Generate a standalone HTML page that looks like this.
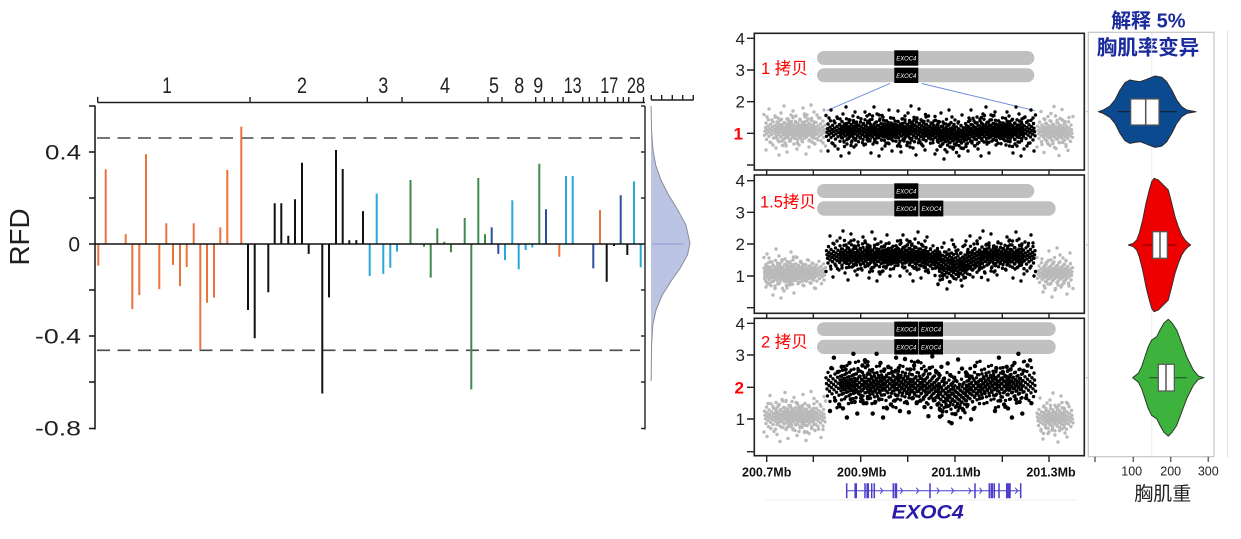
<!DOCTYPE html>
<html>
<head>
<meta charset="utf-8">
<style>
html,body{margin:0;padding:0;background:#fff;}
body{width:1241px;height:539px;overflow:hidden;}
svg{display:block;}
text{font-family:"Liberation Sans","Noto Sans CJK SC",sans-serif;}
</style>
</head>
<body>
<svg width="1241" height="539" viewBox="0 0 1241 539" xmlns="http://www.w3.org/2000/svg" xmlns:xlink="http://www.w3.org/1999/xlink">
<defs>
<g id="tA">
<circle cx="0" cy="-15.5" r="1.7"/><circle cx="11.5" cy="-12.7" r="1.7"/><circle cx="23" cy="-11.2" r="1.7"/><circle cx="4.5" cy="-10.2" r="1.7"/><circle cx="16" cy="-9.4" r="1.7"/><circle cx="27.5" cy="-8.6" r="1.7"/><circle cx="9" cy="-8.1" r="1.7"/><circle cx="20.5" cy="-7.5" r="1.7"/><circle cx="2" cy="-7" r="1.7"/><circle cx="13.5" cy="-6.5" r="1.7"/><circle cx="25" cy="-6" r="1.7"/><circle cx="6.5" cy="-5.7" r="1.7"/><circle cx="18" cy="-5.3" r="1.7"/><circle cx="29.5" cy="-4.9" r="1.7"/><circle cx="11" cy="-4.6" r="1.7"/><circle cx="22.5" cy="-4.2" r="1.7"/><circle cx="4" cy="-3.9" r="1.7"/><circle cx="15.5" cy="-3.6" r="1.7"/><circle cx="27" cy="-3.3" r="1.7"/><circle cx="8.5" cy="-2.9" r="1.7"/><circle cx="20" cy="-2.7" r="1.7"/><circle cx="1.5" cy="-2.3" r="1.7"/><circle cx="13" cy="-2.1" r="1.7"/><circle cx="24.5" cy="-1.8" r="1.7"/><circle cx="6" cy="-1.5" r="1.7"/><circle cx="17.5" cy="-1.2" r="1.7"/><circle cx="29" cy="-1" r="1.7"/><circle cx="10.5" cy="-0.7" r="1.7"/><circle cx="22" cy="-0.4" r="1.7"/><circle cx="3.5" cy="-0.1" r="1.7"/><circle cx="15" cy="0.1" r="1.7"/><circle cx="26.5" cy="0.4" r="1.7"/><circle cx="8" cy="0.7" r="1.7"/><circle cx="19.5" cy="1" r="1.7"/><circle cx="1" cy="1.2" r="1.7"/><circle cx="12.5" cy="1.5" r="1.7"/><circle cx="24" cy="1.8" r="1.7"/><circle cx="5.5" cy="2.1" r="1.7"/><circle cx="17" cy="2.3" r="1.7"/><circle cx="28.5" cy="2.7" r="1.7"/><circle cx="10" cy="2.9" r="1.7"/><circle cx="21.5" cy="3.3" r="1.7"/><circle cx="3" cy="3.6" r="1.7"/><circle cx="14.5" cy="3.9" r="1.7"/><circle cx="26" cy="4.2" r="1.7"/><circle cx="7.5" cy="4.6" r="1.7"/><circle cx="19" cy="4.9" r="1.7"/><circle cx="0.5" cy="5.3" r="1.7"/><circle cx="12" cy="5.7" r="1.7"/><circle cx="23.5" cy="6" r="1.7"/><circle cx="5" cy="6.5" r="1.7"/><circle cx="16.5" cy="7" r="1.7"/><circle cx="28" cy="7.5" r="1.7"/><circle cx="9.5" cy="8.1" r="1.7"/><circle cx="21" cy="8.6" r="1.7"/><circle cx="2.5" cy="9.4" r="1.7"/><circle cx="14" cy="10.2" r="1.7"/><circle cx="25.5" cy="11.2" r="1.7"/><circle cx="7" cy="12.7" r="1.7"/><circle cx="18.5" cy="15.5" r="1.7"/>
</g>
<g id="tB">
<circle cx="0" cy="-22.7" r="1.7"/><circle cx="11.5" cy="-18.6" r="1.7"/><circle cx="23" cy="-16.4" r="1.7"/><circle cx="4.5" cy="-14.9" r="1.7"/><circle cx="16" cy="-13.7" r="1.7"/><circle cx="27.5" cy="-12.6" r="1.7"/><circle cx="9" cy="-11.8" r="1.7"/><circle cx="20.5" cy="-10.9" r="1.7"/><circle cx="2" cy="-10.2" r="1.7"/><circle cx="13.5" cy="-9.5" r="1.7"/><circle cx="25" cy="-8.8" r="1.7"/><circle cx="6.5" cy="-8.3" r="1.7"/><circle cx="18" cy="-7.7" r="1.7"/><circle cx="29.5" cy="-7.2" r="1.7"/><circle cx="11" cy="-6.7" r="1.7"/><circle cx="22.5" cy="-6.2" r="1.7"/><circle cx="4" cy="-5.7" r="1.7"/><circle cx="15.5" cy="-5.2" r="1.7"/><circle cx="27" cy="-4.8" r="1.7"/><circle cx="8.5" cy="-4.3" r="1.7"/><circle cx="20" cy="-3.9" r="1.7"/><circle cx="1.5" cy="-3.4" r="1.7"/><circle cx="13" cy="-3" r="1.7"/><circle cx="24.5" cy="-2.6" r="1.7"/><circle cx="6" cy="-2.2" r="1.7"/><circle cx="17.5" cy="-1.8" r="1.7"/><circle cx="29" cy="-1.4" r="1.7"/><circle cx="10.5" cy="-1" r="1.7"/><circle cx="22" cy="-0.6" r="1.7"/><circle cx="3.5" cy="-0.2" r="1.7"/><circle cx="15" cy="0.2" r="1.7"/><circle cx="26.5" cy="0.6" r="1.7"/><circle cx="8" cy="1" r="1.7"/><circle cx="19.5" cy="1.4" r="1.7"/><circle cx="1" cy="1.8" r="1.7"/><circle cx="12.5" cy="2.2" r="1.7"/><circle cx="24" cy="2.6" r="1.7"/><circle cx="5.5" cy="3" r="1.7"/><circle cx="17" cy="3.4" r="1.7"/><circle cx="28.5" cy="3.9" r="1.7"/><circle cx="10" cy="4.3" r="1.7"/><circle cx="21.5" cy="4.8" r="1.7"/><circle cx="3" cy="5.2" r="1.7"/><circle cx="14.5" cy="5.7" r="1.7"/><circle cx="26" cy="6.2" r="1.7"/><circle cx="7.5" cy="6.7" r="1.7"/><circle cx="19" cy="7.2" r="1.7"/><circle cx="0.5" cy="7.7" r="1.7"/><circle cx="12" cy="8.3" r="1.7"/><circle cx="23.5" cy="8.8" r="1.7"/><circle cx="5" cy="9.5" r="1.7"/><circle cx="16.5" cy="10.2" r="1.7"/><circle cx="28" cy="10.9" r="1.7"/><circle cx="9.5" cy="11.8" r="1.7"/><circle cx="21" cy="12.6" r="1.7"/><circle cx="2.5" cy="13.7" r="1.7"/><circle cx="14" cy="14.9" r="1.7"/><circle cx="25.5" cy="16.4" r="1.7"/><circle cx="7" cy="18.6" r="1.7"/><circle cx="18.5" cy="22.7" r="1.7"/>
</g>
<g id="tC">
<circle cx="3" cy="-21" r="1.7"/><circle cx="9" cy="-14" r="1.7"/><circle cx="15" cy="-17" r="1.7"/><circle cx="22" cy="-11" r="1.7"/><circle cx="27" cy="-19" r="1.7"/><circle cx="6" cy="-10" r="1.7"/><circle cx="18" cy="-24" r="1.7"/><circle cx="12" cy="-12" r="1.7"/><circle cx="25" cy="-15" r="1.7"/><circle cx="1" cy="-13" r="1.7"/>
<circle cx="4" cy="12" r="1.7"/><circle cx="10" cy="18" r="1.7"/><circle cx="16" cy="11" r="1.7"/><circle cx="21" cy="22" r="1.7"/><circle cx="28" cy="14" r="1.7"/><circle cx="7" cy="15" r="1.7"/><circle cx="13" cy="25" r="1.7"/><circle cx="19" cy="13" r="1.7"/><circle cx="24" cy="10" r="1.7"/><circle cx="0" cy="20" r="1.7"/>
</g>
</defs>
<rect x="0" y="0" width="1241" height="539" fill="#fff"/>

<!-- ============ LEFT CHART ============ -->
<text transform="translate(29,237) rotate(-90)" font-size="28" text-anchor="middle" fill="#231f20" textLength="57" lengthAdjust="spacingAndGlyphs">RFD</text>

<g font-size="21" fill="#231f20" text-anchor="end">
<text x="81" y="159.5" textLength="36" lengthAdjust="spacingAndGlyphs">0.4</text>
<text x="80" y="251.5">0</text>
<text x="81" y="343.5" textLength="46" lengthAdjust="spacingAndGlyphs">-0.4</text>
<text x="81" y="435.5" textLength="46" lengthAdjust="spacingAndGlyphs">-0.8</text>
</g>

<g stroke="#231f20" stroke-width="1.6" fill="none">
<line x1="95" y1="105.5" x2="95" y2="429.5"/>
<line x1="89" y1="106" x2="95" y2="106"/>
<line x1="89" y1="152" x2="95" y2="152"/>
<line x1="89" y1="198" x2="95" y2="198"/>
<line x1="89" y1="244" x2="95" y2="244"/>
<line x1="89" y1="290" x2="95" y2="290"/>
<line x1="89" y1="336" x2="95" y2="336"/>
<line x1="89" y1="382" x2="95" y2="382"/>
<line x1="89" y1="428.5" x2="95" y2="428.5"/>
</g>
<g stroke="#231f20" stroke-width="1.4" fill="none">
<line x1="645" y1="106" x2="645" y2="429.5"/>
<line x1="641" y1="106" x2="645" y2="106"/>
<line x1="641" y1="152" x2="645" y2="152"/>
<line x1="641" y1="198" x2="645" y2="198"/>
<line x1="641" y1="290" x2="645" y2="290"/>
<line x1="641" y1="336" x2="645" y2="336"/>
<line x1="641" y1="382" x2="645" y2="382"/>
<line x1="641" y1="428.5" x2="645" y2="428.5"/>
</g>

<g stroke="#231f20" stroke-width="1.4" fill="none">
<line x1="97.7" y1="102.5" x2="645" y2="102.5"/>
<path d="M97.7,102.5V97 M250,102.5V97 M367.3,102.5V97 M402,102.5V97 M488,102.5V97 M502,102.5V97 M535.7,102.5V97 M544.3,102.5V97 M552.3,102.5V97 M563,102.5V97 M582.7,102.5V97 M589.3,102.5V97 M597,102.5V97 M604.7,102.5V97 M617.7,102.5V97 M623.3,102.5V97 M628.7,102.5V97 M643.5,102.5V97"/>
<line x1="651.3" y1="100" x2="693.3" y2="100"/>
<path d="M651.3,100V95 M661.7,100V95 M672.3,100V95 M682.7,100V95 M693.3,100V95"/>
</g>
<g font-size="22" fill="#231f20" text-anchor="middle">
<text x="167" y="93" textLength="9.5" lengthAdjust="spacingAndGlyphs">1</text>
<text x="302" y="93" textLength="10" lengthAdjust="spacingAndGlyphs">2</text>
<text x="383.3" y="93" textLength="10" lengthAdjust="spacingAndGlyphs">3</text>
<text x="445" y="93" textLength="10" lengthAdjust="spacingAndGlyphs">4</text>
<text x="494" y="93" textLength="10" lengthAdjust="spacingAndGlyphs">5</text>
<text x="519.3" y="93" textLength="10" lengthAdjust="spacingAndGlyphs">8</text>
<text x="538.3" y="93" textLength="10" lengthAdjust="spacingAndGlyphs">9</text>
<text x="572.7" y="93" textLength="18" lengthAdjust="spacingAndGlyphs">13</text>
<text x="609.3" y="93" textLength="18" lengthAdjust="spacingAndGlyphs">17</text>
<text x="636" y="93" textLength="18" lengthAdjust="spacingAndGlyphs">28</text>
</g>

<g stroke="#4a4a4a" stroke-width="1.6" stroke-dasharray="13 7.5" fill="none">
<line x1="97" y1="138" x2="640" y2="138"/>
<line x1="97" y1="350.3" x2="640" y2="350.3"/>
</g>

<path d="M651,106 L651.1,106 L651.5,130 L653,150 L655.7,165 L660.9,180 L668.6,195 L677.8,210 L685.9,225 L690,243 L687.5,255 L680.3,268 L671.8,280 L662.3,295 L656,310 L652.8,325 L651.6,345 L651.1,381 L651,381 Z" fill="#bcc4e4" stroke="none"/>
<path d="M651.1,106 L651.5,130 L653,150 L655.7,165 L660.9,180 L668.6,195 L677.8,210 L685.9,225 L690,243 L687.5,255 L680.3,268 L671.8,280 L662.3,295 L656,310 L652.8,325 L651.6,345 L651.1,381" fill="none" stroke="#8c8c96" stroke-width="1"/>
<line x1="652" y1="244" x2="684" y2="244" stroke="#a6afdc" stroke-width="2"/>

<g stroke-width="2" fill="none">
<g stroke="#e8743b">
<path d="M98.3,244V265.6 M105.7,244V169.3 M125.7,244V234.1 M132.3,244V309.1 M139.3,244V295.1 M146,244V154.1 M159.3,244V289.1 M166.3,244V223.3 M173,244V264.9 M180,244V286.1 M186.7,244V267 M193.7,244V223.3 M200.3,244V349.3 M207,244V302.7 M214,244V297.6 M220.3,244V227.4 M227.3,244V170 M241.3,244V126.7 M559.3,244V256.7 M600,244V210"/>
</g>
<g stroke="#111">
<path d="M248,244V310 M254.7,244V338.3 M268.3,244V292.3 M274.7,244V203.3 M281.3,244V203.3 M288.3,244V235.7 M295,244V199.3 M302,244V162.8 M308.7,244V253.9 M322.3,244V393.5 M329,244V297.4 M336,244V150 M342.7,244V169 M349.3,244V240.3 M356.3,244V240.1 M363,244V211.1 M606.7,244V281.7 M614,244V246 M627.3,244V255"/>
</g>
<g stroke="#2aa6dd">
<path d="M369.7,244V276 M376.7,244V193.6 M383.3,244V273.9 M390.3,244V267.7 M397,244V251.6 M505,244V260.1 M512.3,244V200.3 M518.7,244V269.3 M525.7,244V250 M532.3,244V247.5 M566,244V176 M572.7,244V176 M634,244V181.4 M640.7,244V267.3"/>
</g>
<g stroke="#3c8a4c">
<path d="M410.5,244V180 M424,244V246.8 M430.7,244V277.6 M437.3,244V228.4 M444.3,244V241.8 M451,244V252.3 M464.7,244V218 M471.3,244V389.4 M478.3,244V178 M485,244V234.1 M539.3,244V163.7"/>
</g>
<g stroke="#2b4f9e">
<path d="M491.7,244V227.4 M498.3,244V253.9 M546,244V209.3 M593.3,244V268.4 M620.7,244V195.3"/>
</g>
</g>
<line x1="95" y1="244" x2="645" y2="244" stroke="#111" stroke-width="1.6"/>

<!-- ============ RIGHT PANELS ============ -->
<g font-size="17" fill="#222" text-anchor="end">
<text x="745" y="44.5">4</text>
<text x="745" y="76">3</text>
<text x="745" y="107.7">2</text>
<text x="743" y="139.5" fill="#f00" font-weight="bold">1</text>
<text x="745" y="186.7">4</text>
<text x="745" y="218.3">3</text>
<text x="745" y="250">2</text>
<text x="745" y="282">1</text>
<text x="745" y="329.3">4</text>
<text x="745" y="361">3</text>
<text x="744" y="393.5" fill="#f00" font-weight="bold">2</text>
<text x="745" y="425">1</text>
</g>
<g stroke="#222" stroke-width="1.4">
<path d="M747,38.3H754.3 M747,70H754.3 M747,101.7H754.3 M747,133.3H754.3 M747,165H754.3"/>
<path d="M747,180.7H754.3 M747,212.3H754.3 M747,244H754.3 M747,276H754.3 M747,307.7H754.3"/>
<path d="M747,323.3H754.3 M747,355H754.3 M747,387.3H754.3 M747,419H754.3 M747,451.7H754.3"/>
</g>
<g stroke="#222" stroke-width="1.4">
<path d="M766.7,170V174.5 M813.3,170V174.5 M860.7,170V174.5 M907.7,170V174.5 M955,170V174.5 M1002.3,170V174.5 M1049,170V174.5"/>
<path d="M766.7,313.3V318 M813.3,313.3V318 M860.7,313.3V318 M907.7,313.3V318 M955,313.3V318 M1002.3,313.3V318 M1049,313.3V318"/>
<path d="M766.7,455.7V462 M813.3,455.7V462 M860.7,455.7V462 M907.7,455.7V462 M955,455.7V462 M1002.3,455.7V462 M1049,455.7V462"/>
</g>

<g fill="#c0c0c0">
<rect x="817" y="51" width="217.3" height="14" rx="7"/>
<rect x="817" y="68.3" width="217.3" height="14" rx="7"/>
<rect x="817" y="184" width="217.3" height="14" rx="7"/>
<rect x="817" y="201.3" width="238.7" height="14.4" rx="7.2"/>
<rect x="817" y="322.3" width="238.7" height="13.7" rx="6.8"/>
<rect x="817" y="339.8" width="238.7" height="14.2" rx="7"/>
</g>
<g fill="#000">
<rect x="894.3" y="50.3" width="24" height="15.4"/>
<rect x="894.3" y="67.6" width="24" height="15.4"/>
<rect x="894.3" y="183.3" width="24" height="15.4"/>
<rect x="894.3" y="200.6" width="24" height="15.8"/>
<rect x="919.6" y="200.6" width="23.7" height="15.8"/>
<rect x="894.3" y="321.6" width="24" height="15"/>
<rect x="919" y="321.6" width="24" height="15"/>
<rect x="894.3" y="339.1" width="24" height="15.4"/>
<rect x="919" y="339.1" width="24" height="15.4"/>
</g>
<g font-size="6.5" fill="#fff" font-style="italic" text-anchor="middle">
<text x="906.3" y="60.5" textLength="20" lengthAdjust="spacingAndGlyphs">EXOC4</text>
<text x="906.3" y="77.8" textLength="20" lengthAdjust="spacingAndGlyphs">EXOC4</text>
<text x="906.3" y="193.5" textLength="20" lengthAdjust="spacingAndGlyphs">EXOC4</text>
<text x="906.3" y="211" textLength="20" lengthAdjust="spacingAndGlyphs">EXOC4</text>
<text x="931.5" y="211" textLength="20" lengthAdjust="spacingAndGlyphs">EXOC4</text>
<text x="906.3" y="331.5" textLength="20" lengthAdjust="spacingAndGlyphs">EXOC4</text>
<text x="931" y="331.5" textLength="20" lengthAdjust="spacingAndGlyphs">EXOC4</text>
<text x="906.3" y="349.3" textLength="20" lengthAdjust="spacingAndGlyphs">EXOC4</text>
<text x="931" y="349.3" textLength="20" lengthAdjust="spacingAndGlyphs">EXOC4</text>
</g>
<g stroke="#6f8fd8" stroke-width="1">
<line x1="890" y1="83.5" x2="826.7" y2="110.7"/>
<line x1="921.7" y1="83.5" x2="1035" y2="110.7"/>
</g>

<g font-size="16.5" fill="#f00">
<text x="761" y="74">1 拷贝</text>
<text x="760" y="207.5">1.5拷贝</text>
<text x="761" y="347.5">2 拷贝</text>
</g>

<!-- scatter: panel 1 -->
<g fill="#b9b9b9">
<use href="#tA" xlink:href="#tA" transform="translate(764,130)"/>
<use href="#tA" xlink:href="#tA" transform="translate(804.5,130.5) scale(-1,1)"/>
<use href="#tA" xlink:href="#tA" transform="translate(786,129.5) scale(1,-1)"/>
<use href="#tA" xlink:href="#tA" transform="translate(825.5,130.5) scale(-1,-1)"/>
<use href="#tC" xlink:href="#tC" transform="translate(766,130)"/>
<use href="#tC" xlink:href="#tC" transform="translate(824,130) scale(-1,-1)"/>
<use href="#tA" xlink:href="#tA" transform="translate(1037,131.5) scale(1,-1)"/>
<use href="#tA" xlink:href="#tA" transform="translate(1073,132) scale(-1,1)"/>
<use href="#tC" xlink:href="#tC" transform="translate(1041,131.5) scale(1,-1)"/>
</g>
<g fill="#000">
<use href="#tA" xlink:href="#tA" transform="translate(826,131)"/>
<use href="#tA" xlink:href="#tA" transform="translate(869.5,130) scale(-1,1)"/>
<use href="#tA" xlink:href="#tA" transform="translate(854,131.5) scale(1,-1)"/>
<use href="#tA" xlink:href="#tA" transform="translate(897.5,130.5) scale(-1,-1)"/>
<use href="#tA" xlink:href="#tA" transform="translate(882,131)"/>
<use href="#tA" xlink:href="#tA" transform="translate(925.5,130) scale(-1,1)"/>
<use href="#tA" xlink:href="#tA" transform="translate(910,131.5) scale(1,-1)"/>
<use href="#tA" xlink:href="#tA" transform="translate(953.5,132) scale(-1,-1)"/>
<use href="#tA" xlink:href="#tA" transform="translate(938,137)"/>
<use href="#tA" xlink:href="#tA" transform="translate(981.5,133) scale(-1,1)"/>
<use href="#tA" xlink:href="#tA" transform="translate(966,131) scale(1,-1)"/>
<use href="#tA" xlink:href="#tA" transform="translate(1009.5,130.5) scale(-1,-1)"/>
<use href="#tA" xlink:href="#tA" transform="translate(994,131)"/>
<use href="#tA" xlink:href="#tA" transform="translate(1035.5,130.5) scale(-1,1)"/>
<use href="#tC" xlink:href="#tC" transform="translate(828,131)"/>
<use href="#tC" xlink:href="#tC" transform="translate(892,131) scale(-1,1)"/>
<use href="#tC" xlink:href="#tC" transform="translate(898,131) scale(1,-1)"/>
<use href="#tC" xlink:href="#tC" transform="translate(962,135) scale(-1,-1)"/>
<use href="#tC" xlink:href="#tC" transform="translate(968,131)"/>
<use href="#tC" xlink:href="#tC" transform="translate(1034,131) scale(-1,1)"/>
</g>

<!-- scatter: panel 2 -->
<g fill="#b9b9b9">
<use href="#tA" xlink:href="#tA" transform="translate(793.5,273) scale(-1,1)"/>
<use href="#tA" xlink:href="#tA" transform="translate(775,272.5) scale(1,-1)"/>
<use href="#tA" xlink:href="#tA" transform="translate(815.5,273) scale(-1,-1)"/>
<use href="#tA" xlink:href="#tA" transform="translate(796,272.5)"/>
<use href="#tA" xlink:href="#tA" transform="translate(764,273)"/>
<use href="#tC" xlink:href="#tC" transform="translate(794,273) scale(-1,1)"/>
<use href="#tA" xlink:href="#tA" transform="translate(1037,273)"/>
<use href="#tA" xlink:href="#tA" transform="translate(1073,273) scale(-1,-1)"/>
<use href="#tC" xlink:href="#tC" transform="translate(1070,273) scale(-1,-1)"/>
</g>
<g fill="#000">
<use href="#tA" xlink:href="#tA" transform="translate(826,256) scale(1,-1)"/>
<use href="#tA" xlink:href="#tA" transform="translate(869.5,256.5) scale(-1,-1)"/>
<use href="#tA" xlink:href="#tA" transform="translate(854,255.5)"/>
<use href="#tA" xlink:href="#tA" transform="translate(897.5,256.5) scale(-1,1)"/>
<use href="#tA" xlink:href="#tA" transform="translate(882,256) scale(1,-1)"/>
<use href="#tA" xlink:href="#tA" transform="translate(925.5,255.5) scale(-1,-1)"/>
<use href="#tA" xlink:href="#tA" transform="translate(910,257)"/>
<use href="#tA" xlink:href="#tA" transform="translate(953.5,260) scale(-1,1)"/>
<use href="#tA" xlink:href="#tA" transform="translate(938,269) scale(1,-1)"/>
<use href="#tA" xlink:href="#tA" transform="translate(981.5,262) scale(-1,-1)"/>
<use href="#tA" xlink:href="#tA" transform="translate(966,256.5)"/>
<use href="#tA" xlink:href="#tA" transform="translate(1009.5,255.5) scale(-1,1)"/>
<use href="#tA" xlink:href="#tA" transform="translate(994,256.5) scale(1,-1)"/>
<use href="#tA" xlink:href="#tA" transform="translate(1035.5,256) scale(-1,-1)"/>
<use href="#tC" xlink:href="#tC" transform="translate(830,256) scale(1,-1)"/>
<use href="#tC" xlink:href="#tC" transform="translate(890,256) scale(-1,1)"/>
<use href="#tC" xlink:href="#tC" transform="translate(900,256)"/>
<use href="#tC" xlink:href="#tC" transform="translate(965,265) scale(-1,-1)"/>
<use href="#tC" xlink:href="#tC" transform="translate(970,256) scale(1,-1)"/>
<use href="#tC" xlink:href="#tC" transform="translate(1034,256) scale(-1,1)"/>
</g>

<!-- scatter: panel 3 -->
<g fill="#b9b9b9">
<use href="#tA" xlink:href="#tA" transform="translate(764,416.5) scale(1,-1)"/>
<use href="#tA" xlink:href="#tA" transform="translate(804.5,416) scale(-1,-1)"/>
<use href="#tA" xlink:href="#tA" transform="translate(786,417)"/>
<use href="#tA" xlink:href="#tA" transform="translate(825.5,416.5) scale(-1,1)"/>
<use href="#tC" xlink:href="#tC" transform="translate(767,416.5)"/>
<use href="#tC" xlink:href="#tC" transform="translate(824,416.5) scale(-1,-1)"/>
<use href="#tA" xlink:href="#tA" transform="translate(1066.5,418) scale(-1,1)"/>
<use href="#tA" xlink:href="#tA" transform="translate(1043.5,418) scale(1,-1)"/>
<use href="#tC" xlink:href="#tC" transform="translate(1040,418) scale(1,-1)"/>
</g>
<g fill="#000">
<use href="#tB" xlink:href="#tB" transform="translate(855.5,385) scale(-1,1)"/>
<use href="#tB" xlink:href="#tB" transform="translate(840,384) scale(1,-1)"/>
<use href="#tB" xlink:href="#tB" transform="translate(883.5,385) scale(-1,-1)"/>
<use href="#tB" xlink:href="#tB" transform="translate(868,384.5)"/>
<use href="#tB" xlink:href="#tB" transform="translate(911.5,384) scale(-1,1)"/>
<use href="#tB" xlink:href="#tB" transform="translate(896,385) scale(1,-1)"/>
<use href="#tB" xlink:href="#tB" transform="translate(939.5,385.5) scale(-1,-1)"/>
<use href="#tB" xlink:href="#tB" transform="translate(924,389)"/>
<use href="#tB" xlink:href="#tB" transform="translate(967.5,399) scale(-1,1)"/>
<use href="#tB" xlink:href="#tB" transform="translate(952,391) scale(1,-1)"/>
<use href="#tB" xlink:href="#tB" transform="translate(995.5,385) scale(-1,-1)"/>
<use href="#tB" xlink:href="#tB" transform="translate(980,384)"/>
<use href="#tB" xlink:href="#tB" transform="translate(1023.5,384.5) scale(-1,1)"/>
<use href="#tB" xlink:href="#tB" transform="translate(1006,384) scale(1,-1)"/>
<use href="#tC" xlink:href="#tC" transform="translate(830,385) scale(1.3)"/>
<use href="#tC" xlink:href="#tC" transform="translate(900,385) scale(-1.3,1.3)"/>
<use href="#tC" xlink:href="#tC" transform="translate(905,385) scale(1.3,-1.3)"/>
<use href="#tC" xlink:href="#tC" transform="translate(975,392) scale(-1.3,-1.3)"/>
<use href="#tC" xlink:href="#tC" transform="translate(995,385) scale(1.3)"/>
</g>

<g fill="none" stroke="#222" stroke-width="1.6">
<rect x="754.3" y="33.3" width="330" height="136.7"/>
<rect x="754.3" y="175" width="330" height="138.3"/>
<rect x="754.3" y="318.3" width="330" height="137.4"/>
</g>

<g font-size="12.5" font-weight="bold" fill="#111" text-anchor="middle">
<text x="766.7" y="476.5">200.7Mb</text>
<text x="861.7" y="476.5">200.9Mb</text>
<text x="956" y="476.5">201.1Mb</text>
<text x="1051" y="476.5">201.3Mb</text>
</g>

<line x1="765" y1="500" x2="1077" y2="500" stroke="#efefef" stroke-width="1"/>
<g stroke="#4b3fcc" fill="none">
<line x1="846.7" y1="490.7" x2="1020.7" y2="490.7" stroke-width="1"/>
<path stroke-width="1.5" d="M846.7,483.3V498.3 M865,483.3V498.3 M871.7,483.3V498.3 M874.3,483.3V498.3 M893.3,483.3V498.3 M930,483.3V498.3 M975,483.3V498.3 M989.3,483.3V498.3 M994.3,483.3V498.3 M999,483.3V498.3 M1006.7,483.3V498.3 M1010,483.3V498.3 M1020.7,483.3V498.3"/>
<path stroke-width="2.6" d="M855.7,483.3V498.3 M867.7,483.3V498.3 M895.9,483.3V498.3 M991.8,483.3V498.3 M1008.3,483.3V498.3"/>
<path stroke-width="1" d="M880.2,487.7L882.7,490.7L880.2,493.7 M900.2,487.7L902.7,490.7L900.2,493.7 M916.2,487.7L918.7,490.7L916.2,493.7 M936.8,487.7L939.3,490.7L936.8,493.7 M951.2,487.7L953.7,490.7L951.2,493.7 M968.5,487.7L971,490.7L968.5,493.7 M979.5,487.7L982,490.7L979.5,493.7 M1015.2,487.7L1017.7,490.7L1015.2,493.7"/>
</g>
<text x="927.7" y="518.5" font-size="19.5" font-weight="bold" font-style="italic" fill="#2a1aa8" text-anchor="middle" textLength="72" lengthAdjust="spacingAndGlyphs">EXOC4</text>

<!-- ============ VIOLIN PANEL ============ -->
<text x="1148.3" y="27.5" font-size="20" font-weight="bold" fill="#1b2a9c" text-anchor="middle">解释 5%</text>
<text x="1148" y="54.5" font-size="20.5" font-weight="bold" fill="#1b2a9c" text-anchor="middle">胸肌率变异</text>

<line x1="1151.7" y1="32.3" x2="1151.7" y2="456.7" stroke="#ececec" stroke-width="1"/>
<line x1="1227.5" y1="30" x2="1227.5" y2="458" stroke="#e4e4e4" stroke-width="1"/>
<rect x="1088.3" y="32.3" width="125.7" height="424.4" fill="none" stroke="#c4c4c4" stroke-width="1.2"/>
<g stroke="#bbb" stroke-width="1">
<line x1="1086" y1="111.7" x2="1089" y2="111.7"/>
<line x1="1086" y1="245" x2="1089" y2="245"/>
<line x1="1086" y1="377.7" x2="1089" y2="377.7"/>
</g>

<path d="M1098.3,111.7 L1103.3,110 L1110,106 L1115,100 L1120,90 L1125,82.7 L1130,80 L1135,81 L1140,81.7 L1146.7,79.3 L1155,76 L1161.7,77.3 L1166.7,81.7 L1171.7,90 L1176.7,100 L1181.7,106.7 L1186.7,110 L1196,111.7 L1186.7,113.4 L1181.7,116.7 L1176.7,123.4 L1171.7,133.4 L1166.7,141.7 L1161.7,146.1 L1155,147.4 L1146.7,144.1 L1140,141.7 L1135,142.4 L1130,143.4 L1125,140.7 L1120,133.4 L1115,123.4 L1110,117.4 L1103.3,113.4 Z" fill="#0b4a8f" stroke="#2a2a2a" stroke-width="1" stroke-linejoin="round"/>
<line x1="1118" y1="111.7" x2="1176.7" y2="111.7" stroke="#1a1a2a" stroke-width="1.2"/>
<rect x="1130.7" y="99" width="28.3" height="26" fill="#fff" stroke="#555" stroke-width="1.2"/>
<line x1="1145.7" y1="99" x2="1145.7" y2="125" stroke="#555" stroke-width="1.5"/>

<path d="M1128.3,245 L1133.3,243.3 L1136.7,240 L1139.3,233.3 L1142.7,220 L1146,203.3 L1149.3,190 L1151.7,181.7 L1154,178.3 L1158.3,180 L1163.3,185 L1168.3,190 L1171.7,203.3 L1175,216.7 L1178.3,226.7 L1181.7,235 L1185,240 L1188.3,243.3 L1190.7,245 L1188.3,246.7 L1185,250 L1181.7,255 L1178.3,263.3 L1175,273.3 L1171.7,286.7 L1168.3,300 L1163.3,305 L1158.3,310 L1154,311.7 L1151.7,308.3 L1149.3,300 L1146,286.7 L1142.7,270 L1139.3,256.7 L1136.7,250 L1133.3,246.7 Z" fill="#ee0000" stroke="#3a2a2a" stroke-width="1" stroke-linejoin="round"/>
<line x1="1143" y1="245" x2="1176.7" y2="245" stroke="#8a0000" stroke-width="1.2"/>
<rect x="1152.7" y="231.7" width="14.6" height="26.6" fill="#fff" stroke="#555" stroke-width="1.2"/>
<line x1="1160" y1="231.7" x2="1160" y2="258.3" stroke="#555" stroke-width="1.5"/>

<path d="M1132.7,377.7 L1138.3,373.3 L1141.7,366.7 L1145,356.7 L1148.3,346.7 L1151.7,340 L1156.7,336.7 L1160,330 L1164,323 L1168.3,319.3 L1172,323 L1176.7,330 L1181.7,343.3 L1186.7,356.7 L1193.3,370 L1198.3,376 L1204,377.7 L1198.3,379.4 L1193.3,385.4 L1186.7,398.7 L1181.7,412.1 L1176.7,425.4 L1172,432.4 L1168.3,436.1 L1164,432.4 L1160,425.4 L1156.7,418.7 L1151.7,415.4 L1148.3,408.7 L1145,398.7 L1141.7,388.7 L1138.3,382.1 Z" fill="#3db33d" stroke="#2a3a2a" stroke-width="1" stroke-linejoin="round"/>
<line x1="1149.3" y1="377.7" x2="1186.7" y2="377.7" stroke="#1f5a1f" stroke-width="1.2"/>
<rect x="1158.3" y="364.3" width="16" height="26.7" fill="#fff" stroke="#555" stroke-width="1.2"/>
<line x1="1166" y1="364.3" x2="1166" y2="391" stroke="#555" stroke-width="1.5"/>

<g stroke="#666" stroke-width="1.5">
<path d="M1095,456.7V462 M1133.3,456.7V462 M1170.7,456.7V462 M1208.3,456.7V462"/>
</g>
<g font-size="12.5" fill="#222" text-anchor="middle">
<text x="1131.7" y="475.5">100</text>
<text x="1170.7" y="475.5">200</text>
<text x="1208.3" y="475.5">300</text>
</g>
<text x="1162.7" y="500" font-size="19" fill="#222" text-anchor="middle">胸肌重</text>
</svg>
</body>
</html>
